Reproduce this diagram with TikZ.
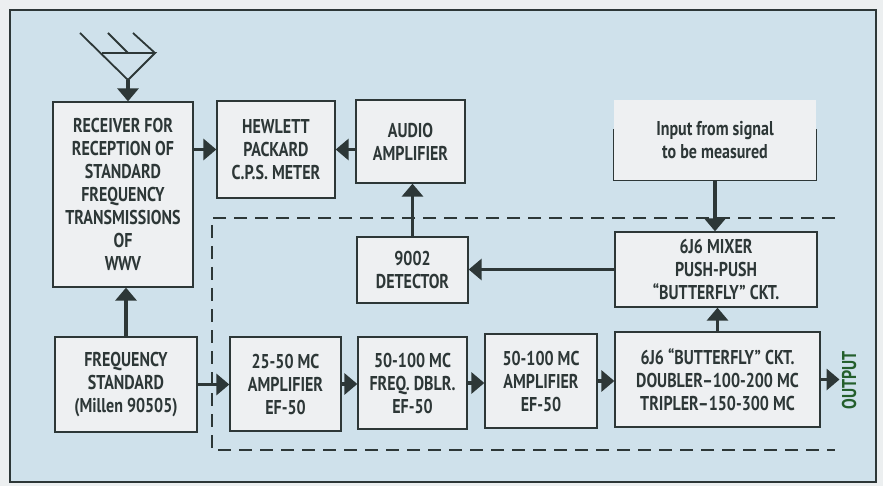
\documentclass[tikz,border=0pt]{standalone}
\usepackage{fontspec}
\setmainfont{PT Sans}[FakeStretch=0.8]
\definecolor{paper}{RGB}{236,239,240}
\definecolor{sheet}{RGB}{207,225,235}
\definecolor{boxfill}{RGB}{238,240,242}
\definecolor{ink}{RGB}{45,55,55}
\colorlet{outgreen}{green!20!ink}
\usetikzlibrary{calc, arrows.meta}

\begin{document}
\begin{tikzpicture}[x=1pt, y=-1pt,
    blk/.style={draw=ink, fill=boxfill, line width=1.3pt, align=center,
      inner sep=2pt, text=ink, font=\fontsize{20}{23}\selectfont\bfseries},
    arr/.style={draw=ink, line width=3.6pt,
      -{Triangle[length=13pt, width=21pt]}},
  ]
    % sheet and frame
    \fill[paper] (0,0) rectangle (883,486);
    \filldraw[fill=sheet, draw=ink, line width=1.2pt] (10,10) rectangle (876,482);

    % antenna
    \draw[ink, line width=1.8pt]
      (80,33) -- (128,80) -- (155,53) -- (102,53)
      (108,33) -- (128,53) (133,33) -- (155,53);
    \coordinate (ant) at (128,80);

    % upper row
    \node[blk, minimum width=140pt, minimum height=185pt] (rcv) at (123,194.5)
      {RECEIVER FOR\\RECEPTION OF\\STANDARD\\FREQUENCY\\TRANSMISSIONS\\OF\\WWV};
    \node[blk, minimum width=118pt, minimum height=97pt] (hp) at (276,149.5)
      {HEWLETT\\PACKARD\\C.P.S. METER};
    \node[blk, minimum width=109pt, minimum height=83pt] (aud) at (410.5,141.5)
      {AUDIO\\AMPLIFIER};
    \node[blk, draw=none, minimum width=202pt, minimum height=80pt] (inp) at (715,140)
      {Input from signal\\to be measured};
    \draw[ink, line width=1.3pt] ($(inp.north west)+(0,30)$) -- (inp.south west)
      -- (inp.south east) -- ($(inp.north east)+(0,30)$);

    % middle row
    \node[blk, minimum width=111pt, minimum height=66pt] (det) at (412.5,270)
      {9002\\DETECTOR};
    \node[blk, minimum width=202pt, minimum height=75pt] (mix) at (716,269.5)
      {6J6 MIXER\\PUSH-PUSH\\``BUTTERFLY'' CKT.};

    % lower row
    \node[blk, minimum width=142pt, minimum height=95pt] (fstd) at (126,384.5)
      {FREQUENCY\\STANDARD\\(Millen 90505)};
    \node[blk, minimum width=111pt, minimum height=94pt] (a25) at (285.5,384)
      {25-50 MC\\AMPLIFIER\\EF-50};
    \node[blk, minimum width=109pt, minimum height=92pt] (dbl) at (412.5,383)
      {50-100 MC\\FREQ. DBLR.\\EF-50};
    \node[blk, minimum width=112pt, minimum height=94pt] (a50) at (541,381)
      {50-100 MC\\AMPLIFIER\\EF-50};
    \node[blk, minimum width=205pt, minimum height=95pt] (bfly) at (717.5,379.5)
      {6J6 ``BUTTERFLY'' CKT.\\DOUBLER--100-200 MC\\TRIPLER--150-300 MC};
    \node[rotate=90, text=outgreen, inner sep=2pt,
      font=\fontsize{20}{23}\selectfont\bfseries] (out) at (849,380) {OUTPUT};

    % dashed enclosure
    \draw[ink, line width=1.4pt, dash pattern=on 13pt off 8pt]
      (835,218) -- (212,218) -- (212,450) -- (835,450);

    % signal paths
    \draw[arr] (ant) -- (ant |- rcv.north);
    \draw[arr] (rcv.east |- hp.west) -- (hp.west);
    \draw[arr] (aud.west |- hp.east) -- (hp.east);
    \draw[arr] (det.north) -- (det.north |- aud.south);
    \draw[arr] (inp.south) -- (inp.south |- mix.north);
    \draw[arr] (mix.west) -- (mix.west -| det.east);
    \draw[arr] (bfly.north) -- (bfly.north |- mix.south);
    \draw[arr] (fstd.north) -- (fstd.north |- rcv.south);
    \draw[arr] (fstd.east) -- (fstd.east -| a25.west);
    \draw[arr] (a25.east) -- (a25.east -| dbl.west);
    \draw[arr] (dbl.east) -- (dbl.east -| a50.west);
    \draw[arr] (a50.east) -- (a50.east -| bfly.west);
    \draw[arr] (bfly.east) -- (bfly.east -| out.north);
  \end{tikzpicture}
\end{document}
